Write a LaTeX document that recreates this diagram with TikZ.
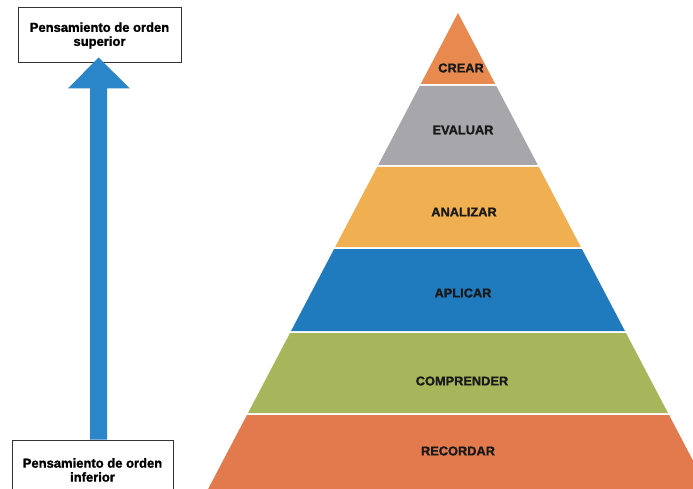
\documentclass[tikz,border=0pt]{standalone}
\usepackage{fontspec}
\setmainfont{Liberation Sans}[BoldFeatures={FakeBold=1.4}]
\usetikzlibrary{calc}
\definecolor{cCrear}{HTML}{E8894F}
\definecolor{cEval}{HTML}{A7A6AA}
\definecolor{cAnal}{HTML}{F0B052}
\definecolor{cApl}{HTML}{1F7BBE}
\definecolor{cComp}{HTML}{A8B65B}
\definecolor{cRec}{HTML}{E27A4D}
\definecolor{cArrow}{HTML}{2B86C9}
\definecolor{cBorder}{HTML}{333333}
\newcommand{\pyrband}[3]{%
  \fill[#3] ({458-0.525*(#1-13)},#1) -- ({458+0.525*(#1-13)},#1) -- ({458+0.525*(#2-13)},#2) -- ({458-0.525*(#2-13)},#2) -- cycle;}
\begin{document}
\begin{tikzpicture}[x=1pt,y=-1pt,
  lbl/.style={font=\fontsize{12.8}{14}\selectfont\bfseries, text=black!90, inner sep=0pt},
  boxnode/.style={draw=cBorder, line width=1pt, fill=white, align=center,
     font=\fontsize{13}{14}\selectfont\bfseries, inner sep=0pt}]
\useasboundingbox (0,0) rectangle (693,489);
\begin{scope}
\clip (0,0) rectangle (693,489);
% pyramid
\fill[cCrear] (458,13) -- ({458+0.525*(84-13)},84) -- ({458-0.525*(84-13)},84) -- cycle;
\pyrband{86}{165}{cEval}
\pyrband{167}{247}{cAnal}
\pyrband{249}{331}{cApl}
\pyrband{333}{413}{cComp}
\pyrband{415}{495}{cRec}
\node[lbl] (crear) at (461,68) {CREAR};
\node[lbl] (evaluar) at (463,130) {EVALUAR};
\node[lbl] (analizar) at (464,212) {ANALIZAR};
\node[lbl] (aplicar) at (463,293) {APLICAR};
\node[lbl] (comprender) at (462,381) {COMPRENDER};
\node[lbl] (recordar) at (458,451) {RECORDAR};
% boxes
\node[boxnode, minimum width=163pt, minimum height=55pt] (top) at (99.5,35.5) {Pensamiento de orden\\superior};
\node[boxnode, minimum width=161pt, minimum height=60pt] (bot) at (92.5,470) {Pensamiento de orden\\inferior};
% arrow
\coordinate (tip) at ($(top.south)+(-1,-6)$);
\coordinate (hr) at ($(tip)+(31.5,31)$);
\coordinate (hl) at ($(tip)+(-30.5,31)$);
\coordinate (sr) at ($(tip)+(8.5,31)$);
\coordinate (sl) at ($(tip)+(-8.5,31)$);
\fill[cArrow] (tip) -- (hr) -- (sr) -- (sr |- bot.north) -- (sl |- bot.north) -- (sl) -- (hl) -- cycle;
\end{scope}
\end{tikzpicture}
\end{document}
